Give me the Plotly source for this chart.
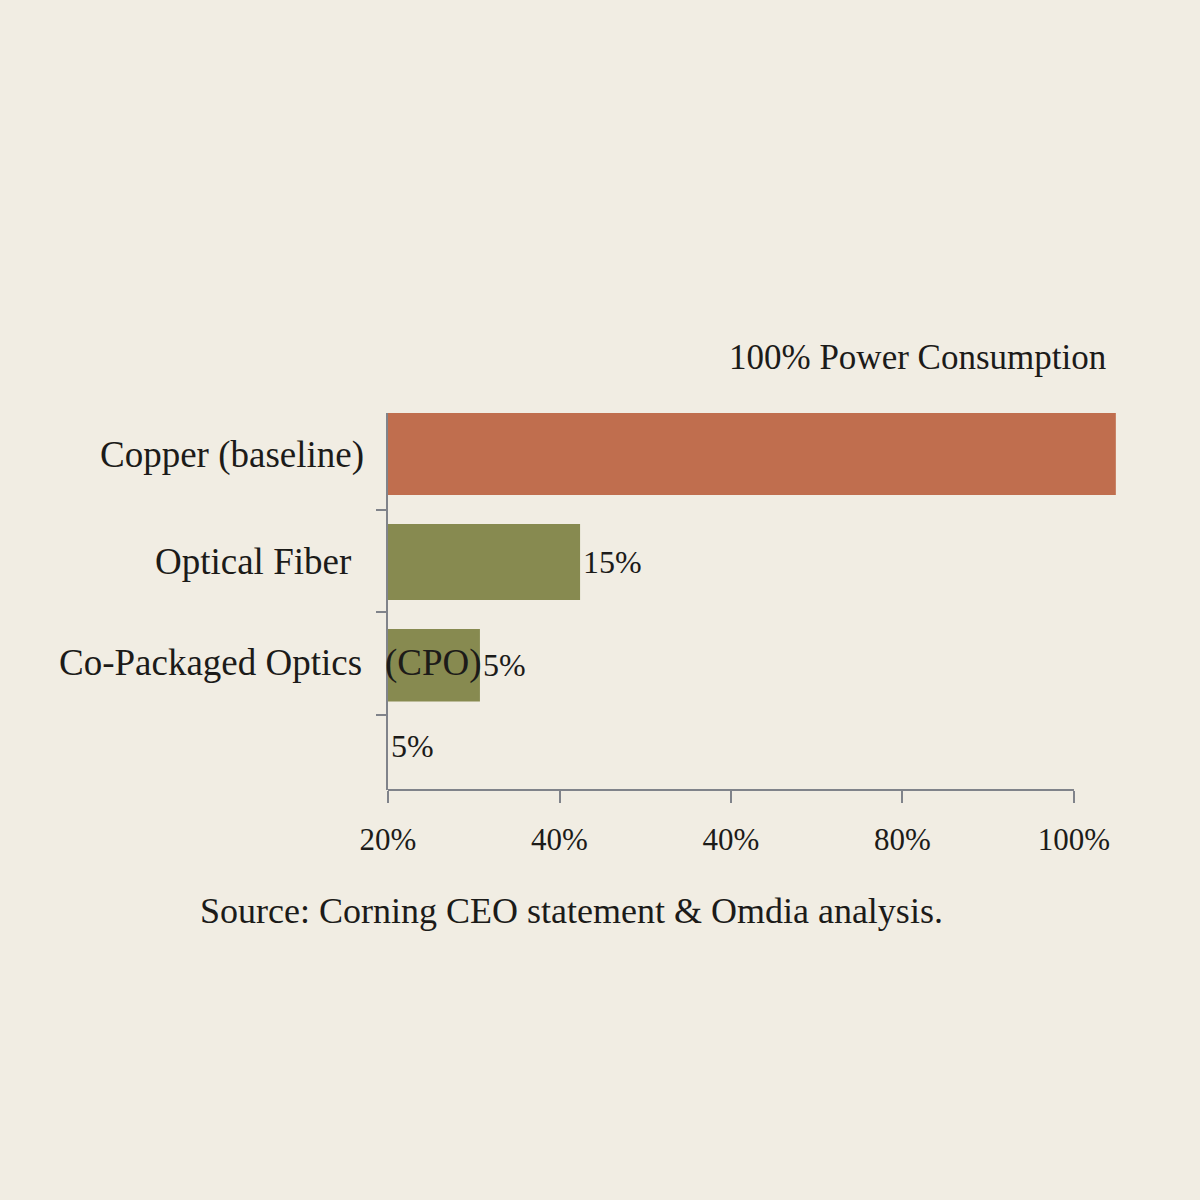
import plotly.graph_objects as go

# ---- data ----
categories = ["Copper (baseline)", "Optical Fiber", "Co-Packaged Optics", "blank"]
values = [106.1, 28.0, 13.4, 0.0]          # bar lengths on the axis scale
bar_text = ["", "15%", "5%", "5%"]
bar_colors = ["#c06e4e", "#878a50", "#878a50", "#878a50"]
tick_vals = [0, 25, 50, 75, 100]
tick_text = ["20%", "40%", "40%", "80%", "100%"]
title_text = "100% Power Consumption"
source_text = "Source: Corning CEO statement & Omdia analysis."

# bar thickness / placement within each category slot (styling)
bar_widths = [0.80, 0.741, 0.708, 0.70]
bar_offsets = [-0.444, -0.361, -0.337, -0.545]

BG = "#f1ede3"
INK = "#1c1b19"
AXIS = "#80838a"
FONT = "Liberation Serif"

fig = go.Figure()
fig.add_trace(go.Bar(
    y=categories, x=values, orientation="h",
    marker=dict(color=bar_colors, line=dict(width=0)),
    width=bar_widths, offset=bar_offsets,
    text=bar_text, textposition="outside", constraintext="none",
    cliponaxis=False,
    textfont=dict(family=FONT, size=32, color=INK),
    hoverinfo="skip",
))

W, H = 1200, 1200
L, R, T, B = 388, 78, 413, 410

fig.update_layout(
    width=W, height=H,
    margin=dict(l=L, r=R, t=T, b=B),
    paper_bgcolor=BG, plot_bgcolor=BG,
    showlegend=False,
    font=dict(family=FONT, color=INK),
)
fig.update_xaxes(
    range=[0, 107], tickvals=tick_vals, ticktext=tick_text,
    showgrid=False, zeroline=False, showline=False,
    ticks="outside", ticklen=12, tickwidth=2, tickcolor=AXIS,
    tickfont=dict(family=FONT, size=31, color=INK),
    ticklabelstandoff=10,
)
fig.update_yaxes(
    type="category", categoryorder="array", categoryarray=categories,
    range=[3.234, -0.444],
    showgrid=False, zeroline=False, showline=True, linecolor=AXIS, linewidth=2,
    ticks="outside", tickson="boundaries", ticklen=10, tickwidth=2, tickcolor=AXIS,
    showticklabels=False,
)
# x axis line spanning 0..100 only
fig.add_shape(type="line", xref="x", yref="paper", x0=0, x1=100, y0=0, y1=0,
              line=dict(color=AXIS, width=2), layer="above")

# category labels
label_shift = {"Copper (baseline)": (-22, 4), "Optical Fiber": (-35, 0),
               "Co-Packaged Optics": (-24, 1)}
for cat, (sx, sy) in label_shift.items():
    fig.add_annotation(text=cat, xref="paper", x=0, yref="y", y=cat,
                       xanchor="right", yanchor="middle", xshift=sx, yshift=sy,
                       showarrow=False, font=dict(family=FONT, size=37, color=INK))
fig.add_annotation(text="(CPO)", xref="paper", x=0, yref="y", y="Co-Packaged Optics",
                   xanchor="left", yanchor="middle", xshift=-5, yshift=1, showarrow=False,
                   font=dict(family=FONT, size=37, color=INK))

# title
fig.add_annotation(text=title_text, xref="paper", x=(1108 - L) / (W - L - R),
                   yref="paper", y=1, yshift=56, xanchor="right", yanchor="middle",
                   showarrow=False, font=dict(family=FONT, size=35, color=INK))
# source
fig.add_annotation(text=source_text, xref="paper", x=(198 - L) / (W - L - R),
                   yref="paper", y=0, yshift=-121, xanchor="left", yanchor="middle",
                   showarrow=False, font=dict(family=FONT, size=36, color=INK))

fig.write_html("out.html", config={"displayModeBar": False},
               post_script="document.body.style.margin='0';document.body.style.background='%s';" % BG)
